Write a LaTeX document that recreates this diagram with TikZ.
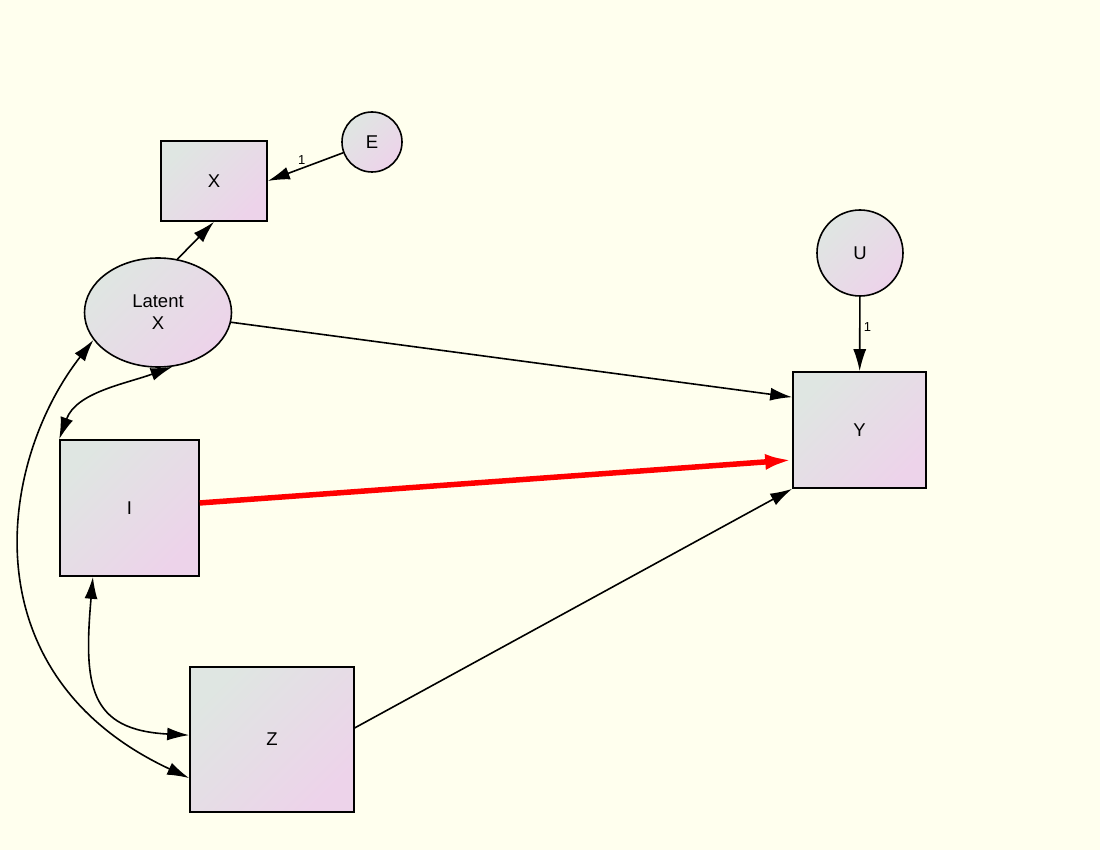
\documentclass[tikz,border=0pt]{standalone}
\usepackage{fontspec}
\setmainfont{Liberation Sans}
\usetikzlibrary{shapes,arrows.meta}

\definecolor{paper}{RGB}{255,255,238}
\definecolor{fillA}{RGB}{223,230,226}
\definecolor{fillB}{RGB}{237,211,234}

\begin{document}
\begin{tikzpicture}[x=1pt,y=1pt,line width=1.6pt,font=\fontsize{18.5}{22}\selectfont]
\tikzstyle{shade}=[draw,inner sep=0,top color=fillA,bottom color=fillB,shading angle=45]
\tikzstyle{obs}=[shade,rectangle]
\tikzstyle{lat}=[shade,ellipse,align=center]
\tikzstyle{err}=[shade,circle]
\tikzstyle{effect}=[-{Latex[length=22pt,width=13pt]}]
\tikzstyle{cov}=[{Latex[length=22pt,width=13pt]}-{Latex[length=22pt,width=13pt]}]
\tikzstyle{lbl}=[font=\fontsize{13}{15}\selectfont]
\fill[paper] (0,0) rectangle (1100,-850);
\useasboundingbox (0,0) rectangle (1100,-850);
% variables
\node[obs,minimum width=106,minimum height=80] (X) at (214,-181) {X};
\node[err,minimum size=60] (E) at (372,-142) {E};
\node[lat,minimum width=147,minimum height=109] (Latent) at (158,-312.5) {Latent\\X};
\node[obs,minimum width=139,minimum height=136] (I) at (129.5,-508) {I};
\node[obs,minimum width=164,minimum height=145] (Z) at (272,-739.5) {Z};
\node[err,minimum size=86] (U) at (860,-253) {U};
\node[obs,minimum width=133,minimum height=116] (Y) at (859.5,-430) {Y};
% paths
\draw[effect] (Latent.70) -- (X.south);
\draw[effect] (E) -- node[lbl,above,pos=0.55] {1} (X.east);
\draw[effect] (U) -- node[lbl,right,pos=0.4] {1} (Y);
\foreach \a/\b in {Latent/Y.154,Z.8/Y.south west}{
\draw[effect] (\a) -- (\b);
}
\draw[-{Latex[length=27pt,width=16pt]},red,line width=5.5pt] (I) -- (Y.204);
% covariances
\draw[cov] (Latent.285) .. controls +(200:50) and +(70:50) .. (I.north west);
\draw[cov] (I.242) .. controls +(265:110) and +(177:100) .. (Z.177);
\draw[cov] (Latent.203) .. controls +(232:155) and +(155:245) .. (Z.205);
\end{tikzpicture}
\end{document}
